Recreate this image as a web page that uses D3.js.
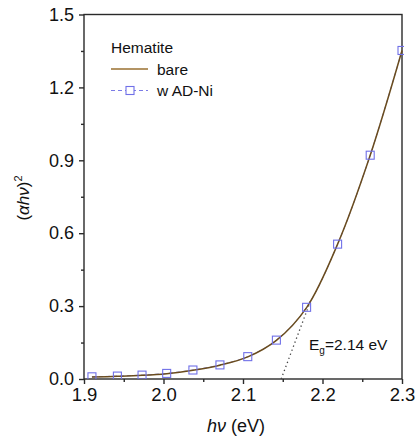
<!DOCTYPE html>
<html>
<head>
<meta charset="utf-8">
<script src="https://cdn.jsdelivr.net/npm/d3@7"></script>
<style>
  body { margin: 0; background: #fff; }
  text { font-family: "Liberation Sans", Arial, sans-serif; fill: #111; }
</style>
</head>
<body>
<div id="svg"></div>
<script>
// photon energy (eV) and (alpha h nu)^2
var energy = [1.910, 1.942, 1.973, 2.004, 2.037, 2.071, 2.106, 2.142, 2.180, 2.219, 2.260, 2.300];
var bare = [0.008, 0.011, 0.015, 0.022, 0.036, 0.057, 0.091, 0.159, 0.294, 0.555, 0.921, 1.352];
var adNi = [0.009, 0.012, 0.016, 0.023, 0.037, 0.058, 0.092, 0.160, 0.295, 0.555, 0.921, 1.352];
// tangent used for the band gap
var tangentX = [2.148, 2.186];
var tangentY = [0.0, 0.33];
var xTicks = [1.9, 2.0, 2.1, 2.2, 2.3];
var yTicks = [0.0, 0.3, 0.6, 0.9, 1.2, 1.5];

var width = 417;
var height = 443;
// plot area edges (note: "top" is a reserved window property)
var pLeft = 84, pRight = 402, pTop = 14.5, pBottom = 379;

var x = d3.scaleLinear().domain([1.9, 2.3]).range([pLeft, pRight]);
var y = d3.scaleLinear().domain([0, 1.5]).range([pBottom, pTop]);

var svg = d3.select('#svg').append('svg')
    .attr('width', width)
    .attr('height', height);

// frame
svg.append('rect')
    .attr('x', pLeft)
    .attr('y', pTop)
    .attr('width', pRight - pLeft)
    .attr('height', pBottom - pTop)
    .attr('fill', 'none')
    .attr('stroke', '#2a2a2a')
    .attr('stroke-width', 1.4);

// x axis ticks (outward)
var xMinor = d3.range(1.95, 2.3, 0.1);
var gx = svg.append('g').attr('transform', 'translate(0,' + pBottom + ')');
gx.call(d3.axisBottom(x).tickValues(xTicks).tickSize(5).tickPadding(4).tickFormat(d3.format('.1f')));
gx.append('g').call(d3.axisBottom(x).tickValues(xMinor).tickSize(3).tickFormat(''));
gx.selectAll('.domain').remove();
gx.selectAll('line').attr('stroke', '#2a2a2a').attr('stroke-width', 1.4);
gx.selectAll('text').style('font-size', '18.5px').attr('font-family', null);

// y axis ticks (outward)
var yMinor = d3.range(0.15, 1.5, 0.3);
var gy = svg.append('g').attr('transform', 'translate(' + pLeft + ',0)');
gy.call(d3.axisLeft(y).tickValues(yTicks).tickSize(5).tickPadding(5).tickFormat(d3.format('.1f')));
gy.append('g').call(d3.axisLeft(y).tickValues(yMinor).tickSize(3).tickFormat(''));
gy.selectAll('.domain').remove();
gy.selectAll('line').attr('stroke', '#2a2a2a').attr('stroke-width', 1.4);
gy.selectAll('text').style('font-size', '18px').attr('font-family', null);

svg.append('clipPath').attr('id', 'plotclip')
    .append('rect').attr('x', pLeft).attr('y', pTop - 2)
    .attr('width', pRight - pLeft + 2).attr('height', pBottom - pTop + 2);

// tangent (dotted)
svg.append('line')
    .attr('x1', x(tangentX[0])).attr('y1', y(tangentY[0]))
    .attr('x2', x(tangentX[1])).attr('y2', y(tangentY[1]))
    .attr('stroke', '#444')
    .attr('stroke-width', 1.3)
    .attr('stroke-dasharray', '1.3,3');

var line = d3.line().curve(d3.curveCatmullRom);

// w AD-Ni dashed line
svg.append('path')
    .attr('d', line(energy.map(function (e, i) { return [x(e), y(adNi[i])]; })))
    .attr('fill', 'none')
    .attr('stroke', '#7b7be6')
    .attr('stroke-width', 1)
    .attr('stroke-dasharray', '4,3');

// bare line
svg.append('path')
    .attr('d', line(energy.map(function (e, i) { return [x(e), y(bare[i])]; })))
    .attr('fill', 'none')
    .attr('stroke', '#6a4c1e')
    .attr('stroke-width', 1.5);

// squares
svg.append('g').attr('clip-path', 'url(#plotclip)')
    .selectAll('rect')
    .data(energy)
    .enter().append('rect')
    .attr('x', function (d) { return x(d) - 4; })
    .attr('y', function (d, i) { return y(adNi[i]) - 4; })
    .attr('width', 8)
    .attr('height', 8)
    .attr('fill', 'none')
    .attr('stroke', '#7070e8')
    .attr('stroke-width', 1.1);

// legend
svg.append('text').attr('x', 111).attr('y', 53).style('font-size', '15.5px').text('Hematite');
svg.append('line').attr('x1', 111).attr('x2', 148).attr('y1', 69).attr('y2', 69)
    .attr('stroke', '#9a7030').attr('stroke-width', 1.4);
svg.append('text').attr('x', 157).attr('y', 74.5).style('font-size', '15.5px').text('bare');
svg.append('line').attr('x1', 111).attr('x2', 148).attr('y1', 90.5).attr('y2', 90.5)
    .attr('stroke', '#7b7be6').attr('stroke-width', 1.1).attr('stroke-dasharray', '4,3');
svg.append('rect').attr('x', 126).attr('y', 86.5).attr('width', 8).attr('height', 8)
    .attr('fill', '#fff').attr('stroke', '#7070e8').attr('stroke-width', 1.1);
svg.append('text').attr('x', 157).attr('y', 96).style('font-size', '15.5px').text('w AD-Ni');

// band gap label
var eg = svg.append('text').attr('x', 309).attr('y', 350).style('font-size', '15.5px');
eg.append('tspan').text('E');
eg.append('tspan').attr('dy', 4).style('font-size', '10px').text('g');
eg.append('tspan').attr('dy', -4).text('=2.14 eV');

// axis titles
var xt = svg.append('text').attr('x', 236).attr('y', 432)
    .style('text-anchor', 'middle').style('font-size', '18px');
xt.append('tspan').style('font-style', 'italic').text('h\u03bd');
xt.append('tspan').text(' (eV)');

var yt = svg.append('text')
    .attr('transform', 'translate(29,198) rotate(-90)')
    .style('text-anchor', 'middle').style('font-size', '17px');
yt.append('tspan').text('(');
yt.append('tspan').style('font-style', 'italic').text('\u03b1h\u03bd');
yt.append('tspan').text(')');
yt.append('tspan').attr('dy', -7).style('font-size', '11px').text('2');
</script>
</body>
</html>
